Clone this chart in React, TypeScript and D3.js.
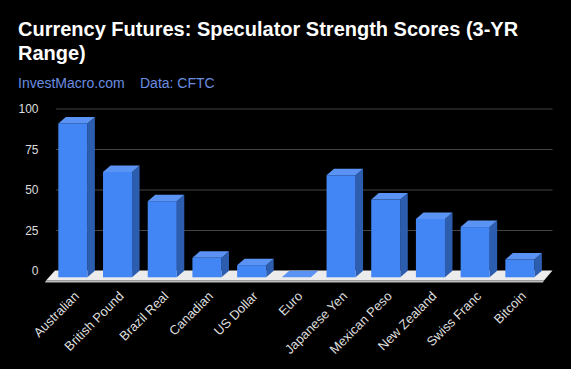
import React from "react";
import * as d3 from "d3";

const categories = ["Australian", "British Pound", "Brazil Real", "Canadian", "US Dollar", "Euro", "Japanese Yen", "Mexican Peso", "New Zealand", "Swiss Franc", "Bitcoin"];
const scores = [95, 65, 47, 12, 7.5, 0, 63, 48, 36, 31, 11];
const yTicks = [0, 25, 50, 75, 100];

const W = 571, H = 369;
const DX = 7.5, DY = 6.5;

export default function App() {
  const x = d3.scaleBand<string>().domain(categories).range([50.5, 542.2]).paddingInner(0.35).paddingOuter(0.175);
  const yWall = d3.scaleLinear().domain([0, 100]).range([271, 109]);
  const yBar = d3.scaleLinear().domain([0, 100]).range([277.3, 115.3]);
  const font = "'Liberation Sans', Arial, sans-serif";
  const y0 = yBar(0);
  return (
    <svg width={W} height={H} style={{ position: "absolute", left: 0, top: 0, background: "#000" }} fontFamily={font}>
      <rect x={0} y={0} width={W} height={H} fill="#000" />
      <text x={18} y={36} fill="#fff" fontSize={20} fontWeight="bold">
        <tspan x={18} y={36}>Currency Futures: Speculator Strength Scores (3-YR</tspan>
        <tspan x={18} y={60}>Range)</tspan>
      </text>
      <text x={18} y={87.5} fill="#6b8ee0" fontSize={14}>InvestMacro.com</text>
      <text x={140} y={87.5} fill="#6b8ee0" fontSize={14}>Data: CFTC</text>
      {yTicks.map(t => (
        <g key={t}>
          {t > 0 && <line x1={56} x2={552.5} y1={yWall(t)} y2={yWall(t)} stroke="#444" strokeWidth={1} />}
          <text x={38.5} y={yWall(t)} dy="0.35em" textAnchor="end" fill="#ddd" fontSize={12}>{t}</text>
        </g>
      ))}
      <polygon points={`55,270.5 552.5,270.5 544,280.5 46,280.5`} fill="#ececec" />
      <polygon points={`46,280.5 544,280.5 543,282.5 45,282.5`} fill="#bdbdbd" />
      {categories.map((c, i) => {
        const v = scores[i];
        const x0 = x(c)!;
        const x1 = x0 + x.bandwidth();
        const yt = yBar(v);
        return (
          <g key={c}>
            {v > 0 && <polygon points={`${x1},${yt} ${x1 + DX},${yt - DY} ${x1 + DX},${y0 - DY} ${x1},${y0}`} fill="#2d5dae" />}
            <polygon points={`${x0},${yt} ${x0 + DX},${yt - DY} ${x1 + DX},${yt - DY} ${x1},${yt}`} fill="#5b93f4" />
            {v > 0 && <rect x={x0} y={yt} width={x.bandwidth()} height={y0 - yt} fill="#4285f4" />}
          </g>
        );
      })}
      {categories.map(c => {
        const cx = x(c)! + x.bandwidth() / 2;
        return (
          <text key={c} transform={`translate(${cx + 7},${297}) rotate(-45)`} textAnchor="end" fill="#ddd" fontSize={13}>{c}</text>
        );
      })}
    </svg>
  );
}
